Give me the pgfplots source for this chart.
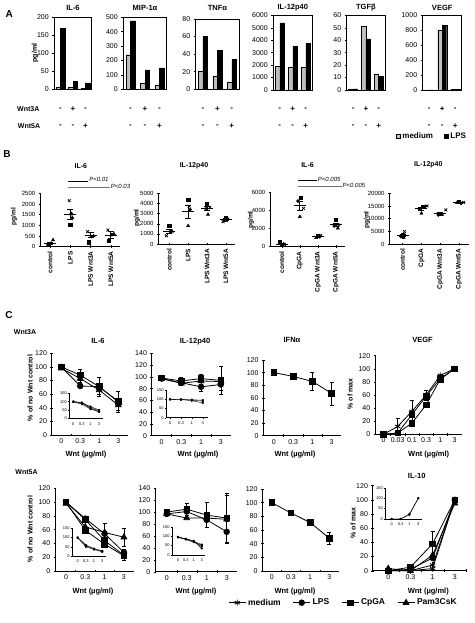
\documentclass[border=0pt]{standalone}
\usepackage{pgfplots}
\pgfplotsset{compat=1.18}
\usepackage{fontspec}
\setmainfont{Liberation Sans}
\newcommand\fs[1]{\fontsize{#1}{#1}\selectfont}
\tikzset{
  med/.style={fill=black!25, draw=black, line width=0.3pt},
  lps/.style={fill=black, draw=black, line width=0.3pt},
  lab/.style={font=\bfseries\fs{7}, inner sep=0pt},
  ttl/.style={font=\bfseries\fs{7.5}, inner sep=0pt},
  sgn/.style={font=\bfseries\fs{8}, inner sep=0pt},
}
\pgfplotsset{
  base/.style={scale only axis, clip=false, anchor=south west,
    /pgf/number format/assume math mode=true,
    /pgf/number format/1000 sep={}, scaled ticks=false,
    tick align=outside, tick style={black, line width=0.4pt},
    ticklabel style={font=\fs{6.5}}},
  Abar/.style={base, ybar=0pt, bar width=4.5pt, xmin=0.5, xmax=3.5, ymin=0,
    xtick=\empty, ytick pos=left, major tick length=2pt,
    axis line style={line width=0.5pt}, ticklabel style={font=\fs{7}}},
  Bdot/.style={base, axis lines=left, axis line style={-, line width=0.6pt},
    every outer x axis line/.append style={-}, every outer y axis line/.append style={-},
    ymin=0, xtick={1,2,3,4}, major tick length=2.5pt, ticklabel style={font=\fs{6}},
    xticklabel style={rotate=90, anchor=east, font=\bfseries\fs{6.5}}},
  Cex/.style={base, axis lines=left, axis line style={-, line width=0.5pt},
    every outer x axis line/.append style={-}, every outer y axis line/.append style={-},
    ymin=0, xmin=0.5, xmax=4.5, major tick length=2.5pt,
    xtick={1.5,2.5,3.5}, xticklabels={,,,,,},
    extra x ticks={1,2,3,4}, extra x tick labels={0,0.3,1,3},
    extra x tick style={major tick length=0pt},
    ticklabel style={font=\fs{7}}},
  Ins/.style={scale only axis, clip=false, anchor=south west,
    /pgf/number format/assume math mode=true,
    axis lines=left, axis line style={-, line width=0.4pt},
    every outer x axis line/.append style={-}, every outer y axis line/.append style={-},
    ymin=0, ymax=150, ytick={0,50,100,150}, xtick={1,2,3,4}, xticklabels={0,0.3,1,3},
    tick align=outside, major tick length=1.2pt, tick style={black, line width=0.3pt},
    ticklabel style={font=\fs{4}, inner sep=0.8pt}, xticklabel style={yshift=-2pt}},
  pt/.style={only marks, black, mark size=1.6pt},
  mn/.style={only marks, black, mark=-, mark size=6pt, line width=0.8pt,
    /pgfplots/error bars/y dir=both, /pgfplots/error bars/y explicit,
    /pgfplots/error bars/error bar style={line width=0.8pt},
    /pgfplots/error bars/error mark options={rotate=90, mark size=3pt, line width=0.8pt}},
  cl/.style={black, line width=0.8pt, mark size=2.8pt, mark options={solid, fill=black},
    /pgfplots/error bars/y dir=both, /pgfplots/error bars/y explicit,
    /pgfplots/error bars/error bar style={black, line width=0.5pt},
    /pgfplots/error bars/error mark options={rotate=90, mark size=2pt, black, line width=0.5pt}},
  is/.style={black, line width=0.4pt, mark=*, mark size=0.9pt},
}
\newcommand\signs[6]{%
  \node[sgn, yshift=-19.6pt] at (axis cs:1,0) {#1};
  \node[sgn, yshift=-19.6pt] at (axis cs:2,0) {#2};
  \node[sgn, yshift=-19.6pt] at (axis cs:3,0) {#3};
  \node[sgn, yshift=-36.6pt] at (axis cs:1,0) {#4};
  \node[sgn, yshift=-36.6pt] at (axis cs:2,0) {#5};
  \node[sgn, yshift=-36.6pt] at (axis cs:3,0) {#6};}
\begin{document}
\begin{tikzpicture}
\useasboundingbox (0pt,0pt) rectangle (474pt,623pt);
% ================= Panel A =================
\node[font=\bfseries\fs{10}, inner sep=0pt] at (9.3pt,609pt) {A};
\node[lab] at (28.3pt,514pt) {Wnt3A};
\node[lab] at (29pt,497pt) {Wnt5A};
\node[ttl] at (73pt,615pt) {IL-6};
\node[ttl] at (145pt,615pt) {MIP-1α};
\node[ttl] at (217.4pt,615pt) {TNFα};
\node[ttl] at (292.8pt,615pt) {IL-12p40};
\node[ttl] at (365.9pt,615pt) {TGFβ};
\node[ttl] at (442.2pt,615pt) {VEGF};
\node[lab, rotate=90] at (35pt,570pt) {pg/ml};

\begin{axis}[Abar, at={(54.3pt,533.7pt)}, width=37.4pt, height=72pt, ymax=200, ytick={0,50,...,200}]
\addplot[med] coordinates {(1,5)(2,5)(3,2)};
\addplot[lps] coordinates {(1,170)(2,22)(3,18)};
\signs{-}{+}{-}{-}{-}{+}
\end{axis}
\begin{axis}[Abar, at={(123.3pt,533.7pt)}, width=43.4pt, height=72pt, ymax=500, ytick={0,100,...,500}]
\addplot[med] coordinates {(1,240)(2,40)(3,30)};
\addplot[lps] coordinates {(1,475)(2,135)(3,148)};
\signs{-}{+}{-}{-}{-}{+}
\end{axis}
\begin{axis}[Abar, at={(195.7pt,533.7pt)}, width=43.3pt, height=70.5pt, ymax=80, ytick={0,20,...,80}]
\addplot[med] coordinates {(1,21)(2,15)(3,8)};
\addplot[lps] coordinates {(1,60)(2,44)(3,34)};
\signs{-}{+}{-}{-}{-}{+}
\end{axis}
\begin{axis}[Abar, at={(273.3pt,533pt)}, width=39pt, height=74.7pt, ymax=6000, ytick={0,1000,...,6000}]
\addplot[med] coordinates {(1,1900)(2,1850)(3,1800)};
\addplot[lps] coordinates {(1,5400)(2,3500)(3,3750)};
\signs{-}{+}{-}{-}{-}{+}
\end{axis}
\begin{axis}[Abar, at={(346.7pt,533pt)}, width=38.3pt, height=74.7pt, ymax=60, ytick={0,10,...,60}]
\addplot[med] coordinates {(1,0.8)(2,51)(3,13)};
\addplot[lps] coordinates {(1,0.8)(2,41)(3,11)};
\signs{-}{+}{-}{-}{-}{+}
\end{axis}
\begin{axis}[Abar, at={(422.7pt,533pt)}, width=39pt, height=74.7pt, ymax=1000, ytick={0,200,...,1000}]
\addplot[med] coordinates {(1,2)(2,800)(3,10)};
\addplot[lps] coordinates {(1,2)(2,870)(3,12)};
\signs{-}{+}{-}{-}{-}{+}
\end{axis}
\begin{axis}[hide axis, scale only axis, width=5pt, height=5pt, at={(432pt,487pt)}, anchor=center,
  xmin=0, xmax=1, ymin=0, ymax=1,
  legend style={at={(0.5,0.5)}, anchor=center, draw=none, fill=none, font=\bfseries\fs{8},
    legend columns=2, /tikz/every even column/.append style={column sep=9pt}, inner sep=0pt},
  legend cell align=left]
\addlegendimage{legend image code/.code={\draw[fill=black!25, draw=black, line width=0.3pt] (0pt,-2pt) rectangle (4pt,2pt);}}
\addlegendimage{legend image code/.code={\draw[fill=black, draw=black, line width=0.3pt] (0pt,-2pt) rectangle (4pt,2pt);}}
\legend{medium, LPS}
\end{axis}

% ================= Panel B =================
\node[font=\bfseries\fs{10}, inner sep=0pt] at (7pt,469pt) {B};
\node[lab] at (80.8pt,457.3pt) {IL-6};
\node[lab] at (194pt,457.3pt) {IL-12p40};
\node[lab] at (307.5pt,458pt) {IL-6};
\node[lab] at (428.3pt,458pt) {IL-12p40};
\node[lab, font=\bfseries\fs{6.5}, rotate=90] at (14pt,406.3pt) {pg/ml};
\node[lab, font=\bfseries\fs{6.5}, rotate=90] at (137pt,405pt) {pg/ml};
\node[lab, font=\bfseries\fs{6.5}, rotate=90] at (251pt,403pt) {pg/ml};
\node[lab, font=\bfseries\fs{6.5}, rotate=90] at (367pt,403pt) {pg/ml};

\begin{axis}[Bdot, at={(40pt,376.3pt)}, width=80pt, height=53.4pt, xmin=0.507, xmax=4.45,
  ymax=2500, ytick={0,500,...,2500}, xticklabels={control,LPS,LPS Wnt3A,LPS Wnt5A}]
\addplot[pt, mark=square*] coordinates {(0.95,110)(2.0,1016)(2.9,206)(3.9,267)};
\addplot[pt, mark=triangle*, mark size=1.9pt] coordinates {(1.15,314)(2.1,1360)(3.15,500)(4.15,594)};
\addplot[pt, mark=x, mark size=2pt, line width=0.8pt] coordinates {(0.88,80)(1.95,2156)(2.85,703)(3.85,781)};
\addplot[pt, mark=*] coordinates {(1.05,160)(2.05,1550)(3.05,470)(4.05,560)};
\addplot[mn] coordinates {(1,160) +- (0,45) (2,1518) +- (0,250) (3,534) +- (0,120) (4,550) +- (0,170)};
\draw[black, line width=0.8pt] (axis cs:1.9,3043) -- (axis cs:2.87,3043);
\node[anchor=west, font=\itshape\fs{6}, inner sep=0.5pt] at (axis cs:2.9,3155) {P<0.01};
\draw[black!55, line width=0.9pt] (axis cs:1.9,2762) -- (axis cs:3.95,2762);
\node[anchor=west, font=\itshape\fs{6}, inner sep=0.5pt] at (axis cs:3.97,2809) {P<0.03};
\end{axis}
\begin{axis}[Bdot, at={(158.3pt,379pt)}, width=77.1pt, height=50.7pt, xmin=0.42, xmax=4.5,
  ymax=5000, ytick={0,1000,...,5000}, xticklabels={control,LPS,LPS Wnt3A,LPS Wnt5A}]
\addplot[pt, mark=square*] coordinates {(1,1800)(2,4380)(3,3950)(4,2600)};
\addplot[pt, mark=x, mark size=2pt, line width=0.8pt] coordinates {(0.85,820)(2.05,3720)(3.15,3620)(3.85,2200)};
\addplot[pt, mark=*] coordinates {(1.1,1220)(2.1,3390)(2.95,3490)(4.1,2450)};
\addplot[pt, mark=triangle*, mark size=1.9pt] coordinates {(1.15,1250)(2.0,1790)(3.05,2900)(4.0,2300)};
\addplot[mn] coordinates {(1,1250) +- (0,230) (2,3200) +- (0,650) (3,3490) +- (0,220) (4,2400) +- (0,110)};
\end{axis}
\begin{axis}[Bdot, at={(270pt,376.3pt)}, width=75.1pt, height=54pt, xmin=0.35, xmax=4.5,
  ymax=6000, ytick={0,2000,4000,6000}, xticklabels={control,CpGA,CpGA Wnt3A,CpGA Wnt5A}]
\addplot[pt, mark=square*] coordinates {(0.9,550)(2.05,5480)(3,1200)(4,2960)};
\addplot[pt, mark=*] coordinates {(1.1,300)(1.9,5070)(3.1,1100)(3.9,2300)};
\addplot[pt, mark=triangle*, mark size=1.9pt] coordinates {(1,150)(2.0,3330)(2.9,1000)(4.1,2050)};
\addplot[pt, mark=x, mark size=2pt, line width=0.8pt] coordinates {(1.15,250)(2.2,4260)(3.15,1250)(4.15,2400)};
\addplot[mn] coordinates {(1,310) +- (0,90) (2,4540) +- (0,460) (3,1140) +- (0,50) (4,2430) +- (0,200)};
\draw[black, line width=0.8pt] (axis cs:1.91,7411) -- (axis cs:2.93,7411);
\node[anchor=west, font=\itshape\fs{6}, inner sep=0.5pt] at (axis cs:2.96,7489) {P<0.005};
\draw[black!55, line width=0.9pt] (axis cs:1.91,6667) -- (axis cs:4.31,6667);
\node[anchor=west, font=\itshape\fs{6}, inner sep=0.5pt] at (axis cs:4.33,6778) {P<0.005};
\end{axis}
\begin{axis}[Bdot, at={(389.3pt,379pt)}, width=80pt, height=50.7pt, xmin=0.29, xmax=4.55,
  ymax=20000, ytick={0,5000,...,20000}, xticklabels={control,CpGA,CpGA Wnt3A,CpGA Wnt5A}]
\addplot[pt, mark=square*] coordinates {(1,3500)(2.1,14740)(3,12100)(4,16700)};
\addplot[pt, mark=*] coordinates {(0.9,3000)(1.9,13800)(2.9,11450)(4.1,16050)};
\addplot[pt, mark=triangle*, mark size=1.9pt] coordinates {(1.05,2500)(2.0,12100)(3.1,11600)(3.9,16300)};
\addplot[pt, mark=x, mark size=2pt, line width=0.8pt] coordinates {(1.1,4870)(2.3,15000)(3.3,13420)(4.25,16400)};
\addplot[mn] coordinates {(1,3470) +- (0,500) (2,13900) +- (0,620) (3,12140) +- (0,430) (4,16360) +- (0,140)};
\end{axis}

% ================= Panel C =================
\node[font=\bfseries\fs{10}, inner sep=0pt] at (9pt,308pt) {C};
\node[lab] at (25pt,291.3pt) {Wnt3A};
\node[lab] at (26.5pt,150.7pt) {Wnt5A};
\node[ttl] at (98pt,282.3pt) {IL-6};
\node[ttl] at (195pt,281.3pt) {IL-12p40};
\node[ttl] at (292pt,283pt) {IFNα};
\node[ttl] at (422.5pt,283pt) {VEGF};
\node[ttl] at (416.7pt,147pt) {IL-10};
\node[lab, rotate=90] at (30pt,235pt) {\% of no Wnt control};
\node[lab, rotate=90] at (30pt,94pt) {\% of no Wnt control};
\node[lab, rotate=90] at (350pt,229pt) {\% of max};
\node[lab, rotate=90] at (353pt,100pt) {\% of max};
\node[ttl] at (86pt,168pt) {Wnt (µg/ml)};
\node[ttl] at (198pt,168pt) {Wnt (µg/ml)};
\node[ttl] at (295pt,168pt) {Wnt (µg/ml)};
\node[ttl] at (428.7pt,168pt) {Wnt (µg/ml)};
\node[ttl] at (93pt,31.3pt) {Wnt (µg/ml)};
\node[ttl] at (196pt,31.3pt) {Wnt (µg/ml)};
\node[ttl] at (295pt,31.3pt) {Wnt (µg/ml)};
\node[ttl] at (428.3pt,31.3pt) {Wnt (µg/ml)};

% C1 Wnt3A IL-6
\begin{axis}[Cex, at={(51.7pt,188pt)}, width=76pt, height=81.7pt, ymax=120, ytick={0,20,...,120}]
\addplot[mark=triangle*, cl, mark size=3.3pt] coordinates {(1,98)(2,83) +- (0,5) (3,66) +- (0,6) (4,44) +- (0,8)};
\addplot[mark=*, cl] coordinates {(1,100)(2,72)(3,71)(4,49)};
\addplot[mark=square*, cl] coordinates {(1,100)(2,88) +- (0,8) (3,71) +- (0,14) (4,49) +- (0,15)};
\end{axis}
\begin{axis}[Ins, at={(69pt,204.7pt)}, width=34.4pt, height=25pt, xmin=0.5, xmax=4.5]
\addplot[is] coordinates {(1,100)(2,95)(3,65)(4,45)};
\addplot[is] coordinates {(1,100)(2,90)(3,60)(4,40)};
\addplot[is] coordinates {(1,98)(2,85)(3,55)(4,38)};
\addplot[is] coordinates {(1,100)(2,92)(3,70)(4,50)};
\end{axis}
% C2 Wnt3A IL-12p40
\begin{axis}[Cex, at={(151.7pt,187.3pt)}, width=79pt, height=82.4pt, ymax=140, ytick={0,20,...,140}]
\addplot[mark=triangle*, cl, mark size=3.3pt] coordinates {(1,97)(2,89)(3,93) +- (0,5) (4,92)};
\addplot[mark=*, cl] coordinates {(1,97)(2,90) +- (0,4) (3,83) +- (0,8) (4,87) +- (0,10)};
\addplot[mark=square*, cl] coordinates {(1,98)(2,93) +- (0,6) (3,97) +- (0,7) (4,94) +- (0,24)};
\end{axis}
\begin{axis}[Ins, at={(165.7pt,205.3pt)}, width=42.5pt, height=27.7pt, xmin=0.6, xmax=4.5]
\addplot[is] coordinates {(1,100)(2,100)(3,95)(4,90)};
\addplot[is] coordinates {(1,98)(2,97)(3,97)(4,95)};
\addplot[is] coordinates {(1,100)(2,98)(3,92)(4,80)};
\end{axis}
% C3 Wnt3A IFNa
\begin{axis}[Cex, at={(263.3pt,187.3pt)}, width=78pt, height=75.7pt, xmin=0.45, ymax=120, ytick={0,20,...,120}]
\addplot[mark=square*, cl] coordinates {(1,100)(2,94)(3,86) +- (0,14) (4,67) +- (0,18)};
\end{axis}
% C4 VEGF
\begin{axis}[Cex, at={(375pt,188.7pt)}, width=86.6pt, height=78.6pt, xmin=0.4, xmax=6.5, ymax=120, ytick={0,20,...,120},
  xtick={1.5,2.5,3.5,4.5,5.5}, extra x ticks={1,2,3,4,5,6}, extra x tick labels={0,0.03,0.1,0.3,1,3}]
\addplot[mark=asterisk, cl, mark size=3pt] coordinates {(1,0)(2,12) +- (0,12) (3,35) +- (0,17) (4,60) +- (0,8) (5,90)(6,100)};
\addplot[mark=square*, cl] coordinates {(1,0)(2,2)(3,30)(4,58)(5,85)(6,100)};
\addplot[mark=square*, cl] coordinates {(1,0)(2,2)(3,17)(4,45)(5,84)(6,100)};
\end{axis}
% C5 Wnt5A IL-6
\begin{axis}[Cex, at={(55pt,52pt)}, width=78.6pt, height=82.7pt, xmin=0.43, ymax=120, ytick={0,20,...,120}]
\addplot[mark=square*, cl] coordinates {(1,100)(2,59)(3,39)(4,22)};
\addplot[mark=triangle*, cl, mark size=3.3pt] coordinates {(1,98)(2,64) +- (0,8) (3,56) (4,49) +- (0,13)};
\addplot[mark=*, cl] coordinates {(1,100)(2,76) +- (0,4) (3,54) +- (0,16) (4,27)};
\addplot[mark=square*, cl] coordinates {(1,100)(2,74.5)(3,44)(4,23) +- (0,8)};
\end{axis}
\begin{axis}[Ins, at={(71.7pt,67pt)}, width=34.7pt, height=27.7pt, xmin=0.27, xmax=4.5]
\addplot[is] coordinates {(1,100)(2,55)(3,38)(4,25)};
\addplot[is] coordinates {(1,98)(2,50)(3,35)(4,22)};
\addplot[is] coordinates {(1,100)(2,60)(3,40)(4,28)};
\end{axis}
% C6 Wnt5A IL-12p40
\begin{axis}[Cex, at={(155pt,51.3pt)}, width=81.7pt, height=83.4pt, xmin=0.415, ymax=140, ytick={0,20,...,140}]
\addplot[mark=triangle*, cl, mark size=3.3pt] coordinates {(1,97)(2,90)(3,90)(4,88) +- (0,40)};
\addplot[mark=*, cl] coordinates {(1,97)(2,101)(3,87) +- (0,13) (4,67) +- (0,17)};
\addplot[mark=square*, cl] coordinates {(1,100)(2,105) +- (0,10) (3,95) +- (0,21) (4,90) +- (0,42)};
\end{axis}
\begin{axis}[Ins, at={(171.7pt,68pt)}, width=33.2pt, height=28.3pt, xmin=0.2, xmax=4.4]
\addplot[is] coordinates {(1,95)(2,85)(3,72)(4,55)};
\addplot[is] coordinates {(1,93)(2,82)(3,68)(4,45)};
\addplot[is] coordinates {(1,95)(2,86)(3,75)(4,35)};
\addplot[is] coordinates {(1,96)(2,84)(3,70)(4,50)};
\end{axis}
% C7 Wnt5A IFNa
\begin{axis}[Cex, at={(262.3pt,52pt)}, width=76.6pt, height=82pt, xmin=0.51, ymax=120, ytick={0,20,...,120}]
\addplot[mark=square*, cl] coordinates {(1,100)(2,85)(3,71)(4,48) +- (0,9)};
\end{axis}
% C8 IL-10
\begin{axis}[Cex, at={(372.7pt,52.3pt)}, width=93.2pt, height=85pt, xmin=0.3, ymax=120, ytick={0,20,...,120},
  xtick={1.5,2.5,3.5,4.5}]
\addplot[mark=asterisk, cl, mark size=3pt] coordinates {(1,0)(2,0)(3,3)(4,100)};
\addplot[mark=asterisk, cl, mark size=3pt] coordinates {(1,0)(2,0)(3,8)(4,100)};
\addplot[mark=*, cl] coordinates {(1,0)(2,2)(3,18)(4,100)};
\addplot[mark=triangle*, cl, mark size=3.3pt] coordinates {(1,3)(2,0)(3,22)(4,95)};
\addplot[mark=square*, cl] coordinates {(1,0)(2,5)(3,38) +- (0,18) (4,100)};
\end{axis}
\begin{axis}[Ins, at={(385pt,104pt)}, width=36.9pt, height=31.3pt, xmin=0.25, xmax=4.4]
\addplot[is] coordinates {(1,0)(2,0)(3,20)(4,100)};
\addplot[is] coordinates {(1,0)(2,0)(3,25)(4,100)};
\end{axis}
\begin{axis}[hide axis, scale only axis, width=5pt, height=5pt, at={(343.5pt,20.3pt)}, anchor=center,
  xmin=0, xmax=1, ymin=0, ymax=1,
  legend style={at={(0.5,0.5)}, anchor=center, draw=none, fill=none, font=\bfseries\fs{8.5},
    legend columns=4, /tikz/every even column/.append style={column sep=10pt}, inner sep=0pt},
  legend cell align=left]
\addlegendimage{black, line width=0.8pt, mark=asterisk, mark size=3pt}
\addlegendimage{black, line width=0.8pt, mark=*, mark size=2.8pt}
\addlegendimage{black, line width=0.8pt, mark=square*, mark size=2.8pt}
\addlegendimage{black, line width=0.8pt, mark=triangle*, mark size=3.3pt}
\legend{medium, LPS, CpGA, Pam3CsK}
\end{axis}
\end{tikzpicture}
\end{document}
